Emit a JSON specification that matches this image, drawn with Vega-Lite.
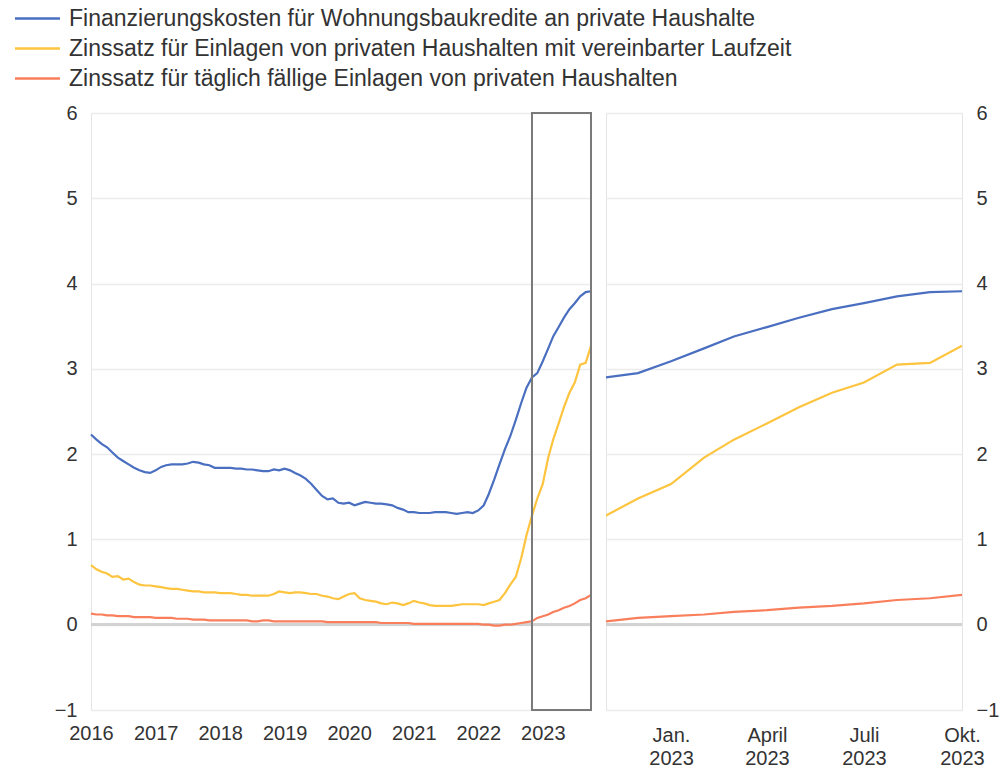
{
  "$schema": "https://vega.github.io/schema/vega-lite/v6.json",
  "padding": {"left": 26, "top": 7, "right": 0, "bottom": 0},
  "background": "white",
  "datasets": {
    "rates": [
      {"d":"2016-01","b":2.23,"y":0.70,"r":0.13},
      {"d":"2016-02","b":2.17,"y":0.65,"r":0.12},
      {"d":"2016-03","b":2.12,"y":0.62,"r":0.12},
      {"d":"2016-04","b":2.08,"y":0.60,"r":0.11},
      {"d":"2016-05","b":2.02,"y":0.56,"r":0.11},
      {"d":"2016-06","b":1.96,"y":0.57,"r":0.10},
      {"d":"2016-07","b":1.92,"y":0.53,"r":0.10},
      {"d":"2016-08","b":1.88,"y":0.54,"r":0.10},
      {"d":"2016-09","b":1.84,"y":0.50,"r":0.09},
      {"d":"2016-10","b":1.81,"y":0.47,"r":0.09},
      {"d":"2016-11","b":1.79,"y":0.46,"r":0.09},
      {"d":"2016-12","b":1.78,"y":0.46,"r":0.09},
      {"d":"2017-01","b":1.81,"y":0.45,"r":0.08},
      {"d":"2017-02","b":1.85,"y":0.44,"r":0.08},
      {"d":"2017-03","b":1.87,"y":0.43,"r":0.08},
      {"d":"2017-04","b":1.88,"y":0.42,"r":0.08},
      {"d":"2017-05","b":1.88,"y":0.42,"r":0.07},
      {"d":"2017-06","b":1.88,"y":0.41,"r":0.07},
      {"d":"2017-07","b":1.89,"y":0.40,"r":0.07},
      {"d":"2017-08","b":1.91,"y":0.39,"r":0.06},
      {"d":"2017-09","b":1.90,"y":0.39,"r":0.06},
      {"d":"2017-10","b":1.88,"y":0.38,"r":0.06},
      {"d":"2017-11","b":1.87,"y":0.38,"r":0.05},
      {"d":"2017-12","b":1.84,"y":0.38,"r":0.05},
      {"d":"2018-01","b":1.84,"y":0.37,"r":0.05},
      {"d":"2018-02","b":1.84,"y":0.37,"r":0.05},
      {"d":"2018-03","b":1.84,"y":0.37,"r":0.05},
      {"d":"2018-04","b":1.83,"y":0.36,"r":0.05},
      {"d":"2018-05","b":1.83,"y":0.35,"r":0.05},
      {"d":"2018-06","b":1.82,"y":0.35,"r":0.05},
      {"d":"2018-07","b":1.82,"y":0.34,"r":0.04},
      {"d":"2018-08","b":1.81,"y":0.34,"r":0.04},
      {"d":"2018-09","b":1.80,"y":0.34,"r":0.05},
      {"d":"2018-10","b":1.80,"y":0.34,"r":0.05},
      {"d":"2018-11","b":1.82,"y":0.36,"r":0.04},
      {"d":"2018-12","b":1.81,"y":0.39,"r":0.04},
      {"d":"2019-01","b":1.83,"y":0.38,"r":0.04},
      {"d":"2019-02","b":1.81,"y":0.37,"r":0.04},
      {"d":"2019-03","b":1.78,"y":0.38,"r":0.04},
      {"d":"2019-04","b":1.75,"y":0.38,"r":0.04},
      {"d":"2019-05","b":1.71,"y":0.37,"r":0.04},
      {"d":"2019-06","b":1.65,"y":0.36,"r":0.04},
      {"d":"2019-07","b":1.58,"y":0.36,"r":0.04},
      {"d":"2019-08","b":1.51,"y":0.34,"r":0.04},
      {"d":"2019-09","b":1.47,"y":0.33,"r":0.03},
      {"d":"2019-10","b":1.48,"y":0.31,"r":0.03},
      {"d":"2019-11","b":1.43,"y":0.30,"r":0.03},
      {"d":"2019-12","b":1.42,"y":0.33,"r":0.03},
      {"d":"2020-01","b":1.43,"y":0.36,"r":0.03},
      {"d":"2020-02","b":1.40,"y":0.37,"r":0.03},
      {"d":"2020-03","b":1.42,"y":0.31,"r":0.03},
      {"d":"2020-04","b":1.44,"y":0.29,"r":0.03},
      {"d":"2020-05","b":1.43,"y":0.28,"r":0.03},
      {"d":"2020-06","b":1.42,"y":0.27,"r":0.03},
      {"d":"2020-07","b":1.42,"y":0.25,"r":0.02},
      {"d":"2020-08","b":1.41,"y":0.24,"r":0.02},
      {"d":"2020-09","b":1.40,"y":0.26,"r":0.02},
      {"d":"2020-10","b":1.37,"y":0.25,"r":0.02},
      {"d":"2020-11","b":1.35,"y":0.23,"r":0.02},
      {"d":"2020-12","b":1.32,"y":0.25,"r":0.02},
      {"d":"2021-01","b":1.32,"y":0.28,"r":0.01},
      {"d":"2021-02","b":1.31,"y":0.26,"r":0.01},
      {"d":"2021-03","b":1.31,"y":0.25,"r":0.01},
      {"d":"2021-04","b":1.31,"y":0.23,"r":0.01},
      {"d":"2021-05","b":1.32,"y":0.22,"r":0.01},
      {"d":"2021-06","b":1.32,"y":0.22,"r":0.01},
      {"d":"2021-07","b":1.32,"y":0.22,"r":0.01},
      {"d":"2021-08","b":1.31,"y":0.22,"r":0.01},
      {"d":"2021-09","b":1.30,"y":0.23,"r":0.01},
      {"d":"2021-10","b":1.31,"y":0.24,"r":0.01},
      {"d":"2021-11","b":1.32,"y":0.24,"r":0.01},
      {"d":"2021-12","b":1.31,"y":0.24,"r":0.01},
      {"d":"2022-01","b":1.34,"y":0.24,"r":0.01},
      {"d":"2022-02","b":1.40,"y":0.23,"r":0.00},
      {"d":"2022-03","b":1.53,"y":0.25,"r":0.00},
      {"d":"2022-04","b":1.70,"y":0.27,"r":-0.01},
      {"d":"2022-05","b":1.88,"y":0.29,"r":-0.01},
      {"d":"2022-06","b":2.06,"y":0.37,"r":0.00},
      {"d":"2022-07","b":2.21,"y":0.47,"r":0.00},
      {"d":"2022-08","b":2.40,"y":0.56,"r":0.01},
      {"d":"2022-09","b":2.60,"y":0.78,"r":0.02},
      {"d":"2022-10","b":2.78,"y":1.05,"r":0.03},
      {"d":"2022-11","b":2.90,"y":1.28,"r":0.04},
      {"d":"2022-12","b":2.95,"y":1.48,"r":0.08},
      {"d":"2023-01","b":3.09,"y":1.65,"r":0.10},
      {"d":"2023-02","b":3.24,"y":1.96,"r":0.12},
      {"d":"2023-03","b":3.38,"y":2.17,"r":0.15},
      {"d":"2023-04","b":3.49,"y":2.36,"r":0.17},
      {"d":"2023-05","b":3.60,"y":2.55,"r":0.20},
      {"d":"2023-06","b":3.70,"y":2.72,"r":0.22},
      {"d":"2023-07","b":3.77,"y":2.84,"r":0.25},
      {"d":"2023-08","b":3.85,"y":3.05,"r":0.29},
      {"d":"2023-09","b":3.90,"y":3.07,"r":0.31},
      {"d":"2023-10","b":3.91,"y":3.27,"r":0.35}
    ],
    "box": [{"s":"2022-11","e":"2023-10","lo":-1,"hi":6}]
  },
  "hconcat": [
    {
      "width": 500,
      "height": 597,
      "layer": [
        {
          "data": {"name": "rates"},
          "mark": {"type": "rule", "color": "#d2d2d2", "strokeWidth": 2},
          "encoding": {"y": {"datum": 0, "type": "quantitative"}}
        },
        {
          "data": {"name": "rates"},
          "transform": [{"fold": ["b", "y", "r"], "as": ["series", "value"]}],
          "mark": {"type": "line", "strokeWidth": 2.2},
          "encoding": {
            "x": {
              "field": "d", "type": "temporal", "title": null,
              "scale": {"type": "utc", "domain": [{"year": 2016, "month": 1, "date": 1, "utc": true}, {"year": 2023, "month": 10, "date": 1, "utc": true}]},
              "axis": {
                "values": [
                  {"year": 2016, "month": 1, "date": 1, "utc": true},
                  {"year": 2017, "month": 1, "date": 1, "utc": true},
                  {"year": 2018, "month": 1, "date": 1, "utc": true},
                  {"year": 2019, "month": 1, "date": 1, "utc": true},
                  {"year": 2020, "month": 1, "date": 1, "utc": true},
                  {"year": 2021, "month": 1, "date": 1, "utc": true},
                  {"year": 2022, "month": 1, "date": 1, "utc": true},
                  {"year": 2023, "month": 1, "date": 1, "utc": true}
                ],
                "labelExpr": "utcFormat(datum.value, '%Y')",
                "grid": false, "ticks": false, "domain": false, "labelPadding": 13, "labelFlush": false, "labelOverlap": false
              }
            },
            "y": {
              "field": "value", "type": "quantitative", "title": null,
              "scale": {"domain": [-1, 6], "nice": false, "zero": false},
              "axis": {"values": [-1, 0, 1, 2, 3, 4, 5, 6], "format": "d", "orient": "left", "grid": true, "ticks": false, "domain": false, "labelPadding": 14}
            },
            "color": {
              "field": "series", "type": "nominal",
              "scale": {"domain": ["b", "y", "r"], "range": ["#4a6fc0", "#fdc43f", "#f97f5c"]},
              "legend": {
                "orient": "none", "legendX": -65, "legendY": -106, "direction": "vertical", "title": null,
                "symbolType": "M-4,0H4", "symbolSize": 127, "symbolStrokeWidth": 2.5,
                "labelFontSize": 23, "labelFont": "Liberation Sans", "labelColor": "#333333", "labelOffset": 20, "labelLimit": 0, "rowPadding": 6,
                "labelExpr": "datum.label == 'b' ? 'Finanzierungskosten für Wohnungsbaukredite an private Haushalte' : datum.label == 'y' ? 'Zinssatz für Einlagen von privaten Haushalten mit vereinbarter Laufzeit' : 'Zinssatz für täglich fällige Einlagen von privaten Haushalten'"
              }
            }
          }
        },
        {
          "data": {"name": "box"},
          "mark": {"type": "rect", "fill": "white", "fillOpacity": 0, "stroke": "#7a7a7a", "strokeWidth": 2},
          "encoding": {
            "x": {"field": "s", "type": "temporal"},
            "x2": {"field": "e"},
            "y": {"field": "lo", "type": "quantitative"},
            "y2": {"field": "hi"}
          }
        }
      ]
    },
    {
      "width": 356,
      "height": 597,
      "layer": [
        {
          "data": {"name": "rates"},
          "mark": {"type": "rule", "color": "#d2d2d2", "strokeWidth": 2},
          "encoding": {"y": {"datum": 0, "type": "quantitative"}}
        },
        {
          "data": {"name": "rates"},
          "transform": [{"fold": ["b", "y", "r"], "as": ["series", "value"]}],
          "mark": {"type": "line", "strokeWidth": 2.2, "clip": true},
          "encoding": {
            "x": {
              "field": "d", "type": "temporal", "title": null,
              "scale": {"type": "utc", "domain": [{"year": 2022, "month": 11, "date": 1, "utc": true}, {"year": 2023, "month": 10, "date": 1, "utc": true}]},
              "axis": {
                "values": [
                  {"year": 2023, "month": 1, "date": 1, "utc": true},
                  {"year": 2023, "month": 4, "date": 1, "utc": true},
                  {"year": 2023, "month": 7, "date": 1, "utc": true},
                  {"year": 2023, "month": 10, "date": 1, "utc": true}
                ],
                "labelExpr": "[utcmonth(datum.value) == 0 ? 'Jan.' : utcmonth(datum.value) == 3 ? 'April' : utcmonth(datum.value) == 6 ? 'Juli' : 'Okt.', utcFormat(datum.value, '%Y')]",
                "grid": false, "ticks": false, "domain": false, "labelPadding": 15, "labelFlush": false, "labelOverlap": false, "labelLineHeight": 23
              }
            },
            "y": {
              "field": "value", "type": "quantitative", "title": null,
              "scale": {"domain": [-1, 6], "nice": false, "zero": false},
              "axis": {"values": [-1, 0, 1, 2, 3, 4, 5, 6], "format": "d", "orient": "right", "grid": true, "ticks": false, "domain": false, "labelPadding": 14}
            },
            "color": {
              "field": "series", "type": "nominal",
              "scale": {"domain": ["b", "y", "r"], "range": ["#4a6fc0", "#fdc43f", "#f97f5c"]},
              "legend": null
            }
          }
        }
      ]
    }
  ],
  "spacing": 8,
  "resolve": {"scale": {"x": "independent", "y": "independent", "color": "shared"}},
  "config": {
    "font": "Liberation Sans",
    "view": {"stroke": "#e4e4e4", "strokeWidth": 1},
    "axis": {"labelFont": "Liberation Sans", "labelFontSize": 20, "labelColor": "#333333", "gridColor": "#ececec", "gridWidth": 1.5}
  }
}
